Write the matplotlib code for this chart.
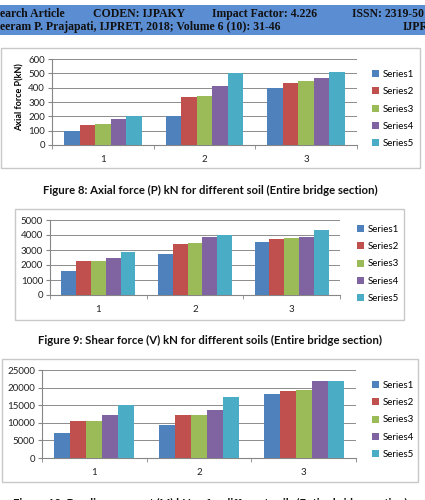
import matplotlib
matplotlib.use('Agg')
from matplotlib import pyplot as plt
from matplotlib.patches import Rectangle
import numpy as np

W, H = 425, 500

categories = ['1', '2', '3']
series_names = ['Series1', 'Series2', 'Series3', 'Series4', 'Series5']
colors = ['#4f81bd', '#c0504d', '#9bbb59', '#8064a2', '#4bacc6']

# Figure 8: axial force P (kN)
axial = [[100, 200, 400],
         [140, 335, 430],
         [145, 345, 450],
         [180, 415, 465],
         [200, 505, 510]]
# Figure 9: shear force V (kN)
shear = [[1580, 2720, 3520],
         [2280, 3380, 3720],
         [2300, 3450, 3780],
         [2460, 3870, 3900],
         [2850, 4020, 4320]]
# Figure 10: bending moment M (kN.m)
moment = [[7000, 9300, 18200],
          [10500, 12100, 19000],
          [10600, 12300, 19200],
          [12200, 13500, 21900],
          [15000, 17300, 22000]]

plt.rcParams['font.family'] = ['Lato', 'DejaVu Sans']

fig = plt.figure(figsize=(W / 100, H / 100), dpi=100)


def fx(x):
    return x / W


def fy(y):
    return 1 - y / H


def frame(x0, y0, x1, y1):
    fig.patches.append(Rectangle((fx(x0), fy(y1)), fx(x1 - x0), (y1 - y0) / H,
                                 transform=fig.transFigure, facecolor='white',
                                 edgecolor='#c8c8c8', lw=1.0, zorder=-5))


def chart(box, data, ymax, step, leg_x, leg_y, ylabel=None):
    l, t, r, b = box
    ax = fig.add_axes([fx(l), fy(b), fx(r - l), (b - t) / H])
    ax.set_zorder(2)
    x = np.arange(1, len(categories) + 1)
    bw = 0.153
    for i, vals in enumerate(data):
        ax.bar(x + (i - 2) * bw, vals, bw, color=colors[i], label=series_names[i],
               zorder=3, linewidth=0)
    ax.set_xlim(0.5, 3.5)
    ax.set_ylim(0, ymax)
    ax.set_yticks(np.arange(0, ymax + 1, step))
    ax.set_xticks(x)
    ax.set_xticklabels(categories)
    ax.set_xticks([0.5, 1.5, 2.5, 3.5], minor=True)
    ax.tick_params(axis='x', which='major', length=0, pad=7, labelsize=7, colors='#222222')
    ax.tick_params(axis='x', which='minor', length=3, color='#868686')
    ax.tick_params(axis='y', length=3, pad=2, labelsize=7, color='#868686', labelcolor='#222222')
    ax.grid(axis='y', color='#8c8c8c', lw=0.7, zorder=1)
    for s in ['top', 'right']:
        ax.spines[s].set_visible(False)
    for s in ['left', 'bottom']:
        ax.spines[s].set_color('#868686')
        ax.spines[s].set_linewidth(0.8)
    ax.legend(loc='center left', bbox_to_anchor=(fx(leg_x), fy(leg_y)),
              bbox_transform=fig.transFigure, frameon=False, fontsize=7,
              handlelength=0.7, handleheight=0.7, handletextpad=0.4,
              labelspacing=0.85, borderpad=0, borderaxespad=0)
    if ylabel:
        fig.text(fx(20), fy(97), ylabel, rotation=90, ha='center', va='center',
                 fontsize=6.5, fontweight='bold', zorder=5)
    return ax


# header bar
fig.patches.append(Rectangle((0, fy(35)), 1, 30 / H, transform=fig.transFigure,
                             facecolor='#5b8dd2', edgecolor='none', zorder=-5))
hdr = dict(fontsize=8.5, fontweight='bold', family='Liberation Serif', color='#111111',
           va='center')
fig.text(fx(0), fy(14), 'earch Article', **hdr)
fig.text(fx(93), fy(14), 'CODEN: IJPAKY', **hdr)
fig.text(fx(212), fy(14), 'Impact Factor: 4.226', **hdr)
fig.text(fx(352), fy(14), 'ISSN: 2319-50', **hdr)
fig.text(fx(0), fy(27), 'eeram P. Prajapati, IJPRET, 2018; Volume 6 (10): 31-46', **hdr)
fig.text(fx(403), fy(27), 'IJPR', **hdr)

frame(1, 48, 420, 168)
frame(15, 209, 404, 320)
frame(2, 359, 418, 482)

chart((52, 59, 357, 145), axial, 600, 100, 372, 109, ylabel='Axial force P(kN)')
chart((50, 220, 340, 295), shear, 5000, 1000, 357, 264)
chart((42, 370, 356, 458), moment, 25000, 5000, 372, 420)

cap = dict(fontsize=8.2, fontweight='bold', ha='center', va='center', color='#111111')
fig.text(fx(210), fy(190), 'Figure 8: Axial force (P) kN for different soil (Entire bridge section)', **cap)
fig.text(fx(210), fy(340), 'Figure 9: Shear force (V) kN for different soils (Entire bridge section)', **cap)
fig.text(fx(210), fy(503), 'Figure 10: Bending moment (M) kN.m for different soils (Entire bridge section)', **cap)

plt.savefig('out.png', dpi=100)
